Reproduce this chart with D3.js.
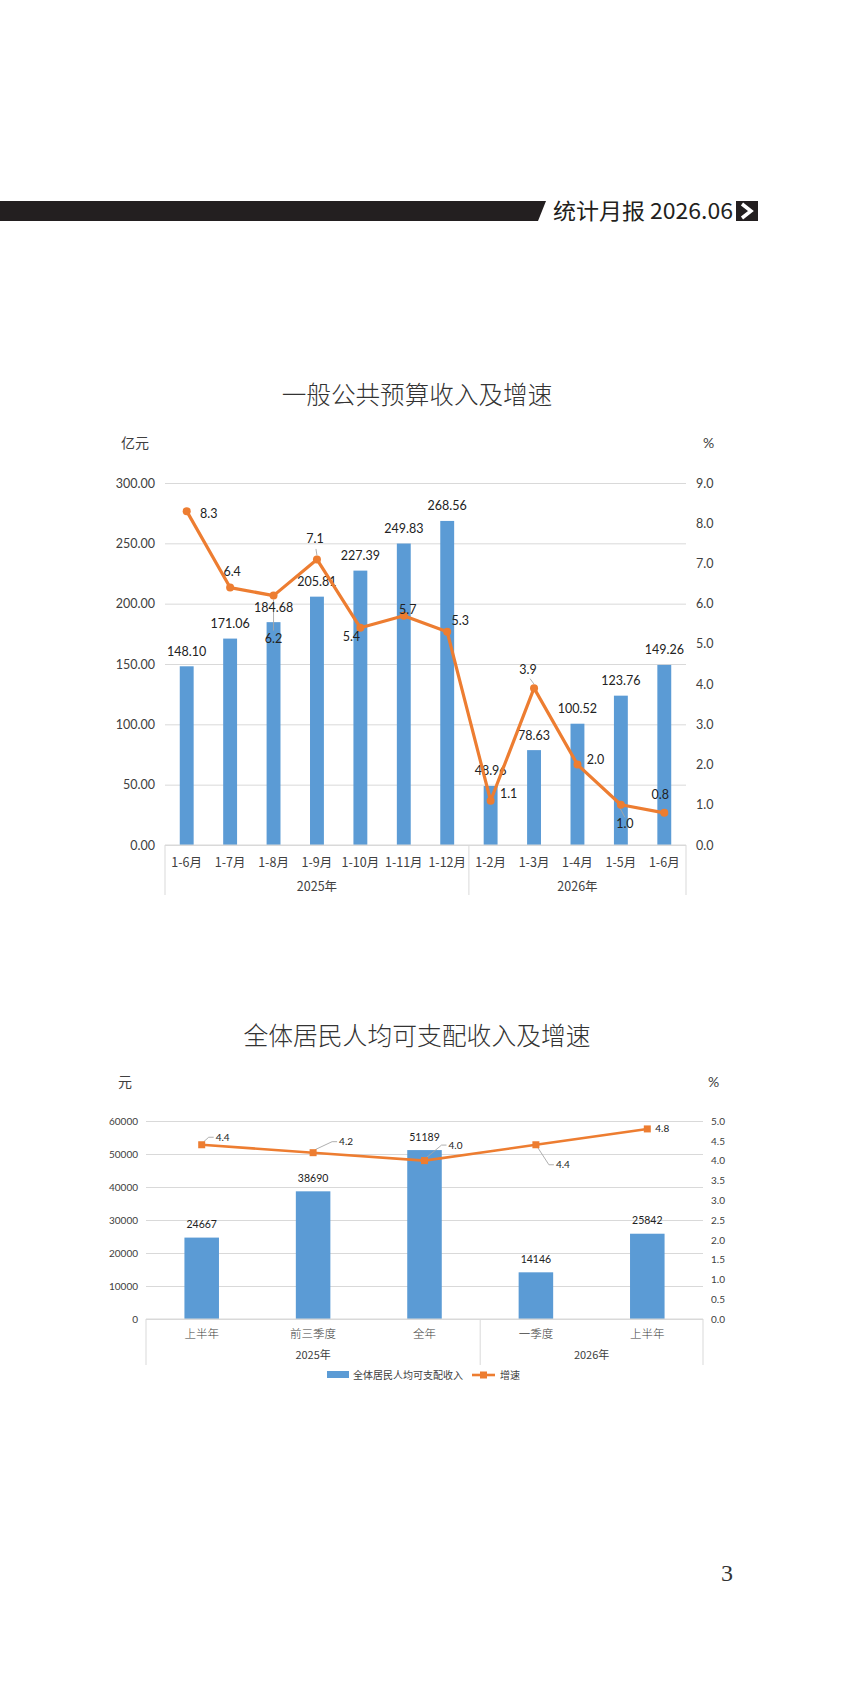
<!DOCTYPE html>
<html><head><meta charset="utf-8">
<script src="https://cdn.jsdelivr.net/npm/d3@7/dist/d3.min.js"></script>
<style>body{margin:0;background:#fff}svg{display:block}</style>
</head><body><svg id="c" width="858" height="1692"></svg>
<script>
// ---------- Chart 1 data ----------
const months = ["1-6月","1-7月","1-8月","1-9月","1-10月","1-11月","1-12月","1-2月","1-3月","1-4月","1-5月","1-6月"];
const revenue = [148.10,171.06,184.68,205.81,227.39,249.83,268.56,48.96,78.63,100.52,123.76,149.26];
const revenueGrowth = [8.3,6.4,6.2,7.1,5.4,5.7,5.3,1.1,3.9,2.0,1.0,0.8];
const years1 = ["2025年","2026年"];
const yearCounts1 = [7,5];
const leftTicks1 = [0,50,100,150,200,250,300];
const rightTicks1 = [0,1,2,3,4,5,6,7,8,9];
// ---------- Chart 2 data ----------
const periods = ["上半年","前三季度","全年","一季度","上半年"];
const income = [24667,38690,51189,14146,25842];
const incomeGrowth = [4.4,4.2,4.0,4.4,4.8];
const years2 = ["2025年","2026年"];
const yearCounts2 = [3,2];
const leftTicks2 = [0,10000,20000,30000,40000,50000,60000];
const rightTicks2 = [0,0.5,1,1.5,2,2.5,3,3.5,4,4.5,5];

// label placement offsets (styling only): [dx, baseline dy]
const lbl1 = [[22,6.5],[2,-11.5],[0,47],[-2,-16.5],[-9,13.5],[4,-2],[13,-6.5],[18,-2.5],[-6,-14.5],[18,-0.5],[4,23.5],[-4,-14]];
const lbl2 = [[21,-4],[33,-7.5],[31,-12],[27,23.5],[15,3.5]];

const BLUE = "#5B9BD5", ORANGE = "#ED7D31", GRID = "#D9D9D9", TXT = "#404040", LEAD = "#A6A6A6";
const CJK = "'Noto Sans CJK SC','Noto Sans',sans-serif";
const NUM = "Lato,'Open Sans',sans-serif";

const svg = d3.select("#c");
svg.append("rect").attr("width",858).attr("height",1692).attr("fill","#fff");

// ---------- Header ----------
const hdr = svg.append("g");
hdr.append("path").attr("d","M0,201 L546,201 L538,221 L0,221 Z").attr("fill","#231f20");
hdr.append("text").attr("x",553).attr("y",219).attr("font-family",CJK).attr("font-size",22)
  .attr("fill","#231f20").attr("textLength",180).attr("lengthAdjust","spacingAndGlyphs").text("统计月报 2026.06");
hdr.append("rect").attr("x",736).attr("y",201).attr("width",22).attr("height",20).attr("fill","#231f20");
hdr.append("path").attr("d","M742,204 L751,211 L742,218").attr("fill","none").attr("stroke","#fff").attr("stroke-width",3.5);

// ---------- Chart 1 ----------
(function(){
  const L=165,R=686,T=483,B=845;
  const x = d3.scaleBand().domain(d3.range(months.length)).range([L,R]);
  const y = d3.scaleLinear().domain([0,300]).range([B,T]);
  const y2 = d3.scaleLinear().domain([0,9]).range([B,T]);
  const cx = i=>x(i)+x.bandwidth()/2;
  const g = svg.append("g");
  g.append("text").attr("x",417).attr("y",404).attr("text-anchor","middle").attr("font-family",CJK)
    .attr("font-size",24.6).attr("font-weight",300).attr("fill","#333").text("一般公共预算收入及增速");
  g.append("text").attr("x",121).attr("y",448).attr("font-family",CJK).attr("font-size",14).attr("fill",TXT).text("亿元");
  g.append("text").attr("x",703).attr("y",448).attr("font-family",NUM).attr("font-size",14).attr("fill",TXT).text("%");

  const ga = g.append("g").attr("transform",`translate(${L},0)`)
    .call(d3.axisLeft(y).tickValues(leftTicks1).tickFormat(d3.format(".2f")).tickSize(-(R-L)).tickPadding(10));
  ga.select(".domain").remove();
  ga.selectAll(".tick line").attr("stroke",GRID);
  ga.selectAll(".tick text").attr("font-family",NUM).attr("font-size",12.5).attr("fill",TXT);
  const gr = g.append("g").attr("transform",`translate(${R},0)`)
    .call(d3.axisRight(y2).tickValues(rightTicks1).tickFormat(d3.format(".1f")).tickSize(0).tickPadding(10));
  gr.select(".domain").remove();
  gr.selectAll(".tick text").attr("font-family",NUM).attr("font-size",12.5).attr("fill",TXT);

  const bw = x.bandwidth()*0.32;
  g.selectAll(".bar").data(revenue).join("rect")
    .attr("x",(d,i)=>cx(i)-bw/2).attr("y",d=>y(d)).attr("width",bw).attr("height",d=>B-y(d)).attr("fill",BLUE);

  g.append("line").attr("x1",L).attr("x2",R).attr("y1",B).attr("y2",B).attr("stroke",GRID);
  g.selectAll(".cat").data(months).join("text")
    .attr("x",(d,i)=>cx(i)).attr("y",B+22).attr("text-anchor","middle")
    .attr("font-family",CJK).attr("font-size",12.5).attr("fill",TXT).text(d=>d);
  let acc=0; const seps=[0];
  yearCounts1.forEach(c=>{acc+=c;seps.push(acc);});
  const sx = d=>d===months.length?R:x(d);
  g.selectAll(".sep").data(seps).join("line")
    .attr("x1",sx).attr("x2",sx).attr("y1",B).attr("y2",B+50).attr("stroke",GRID);
  g.selectAll(".yr").data(years1).join("text")
    .attr("x",(d,i)=>(sx(seps[i])+sx(seps[i+1]))/2)
    .attr("y",B+46).attr("text-anchor","middle").attr("font-family",CJK).attr("font-size",12.5).attr("fill",TXT).text(d=>d);

  // leader lines (drawn beneath labels)
  const lead = g.append("g").attr("stroke",LEAD).attr("stroke-width",0.9).attr("fill","none");
  // 6.2 label far below its point
  lead.append("line").attr("x1",cx(2)).attr("x2",cx(2)).attr("y1",y2(revenueGrowth[2])+4).attr("y2",y2(revenueGrowth[2])+lbl1[2][1]-12);
  // 7.1
  lead.append("line").attr("x1",cx(3)).attr("x2",cx(3)-1).attr("y1",y2(revenueGrowth[3])-4).attr("y2",y2(revenueGrowth[3])+lbl1[3][1]+6);
  // 3.9
  lead.append("line").attr("x1",cx(8)).attr("x2",cx(8)+lbl1[8][0]+2).attr("y1",y2(revenueGrowth[8])-4).attr("y2",y2(revenueGrowth[8])+lbl1[8][1]+5);
  // 1.0
  lead.append("line").attr("x1",cx(10)-1).attr("x2",cx(10)+lbl1[10][0]).attr("y1",y2(revenueGrowth[10])+3).attr("y2",y2(revenueGrowth[10])+lbl1[10][1]-11);

  g.selectAll(".bl").data(revenue).join("text")
    .attr("x",(d,i)=>cx(i)).attr("y",d=>y(d)-10.5).attr("text-anchor","middle")
    .attr("font-family",NUM).attr("font-size",12.5).attr("fill","#222").text(d=>d.toFixed(2));

  g.append("path").datum(revenueGrowth).attr("fill","none").attr("stroke",ORANGE).attr("stroke-width",3.2)
    .attr("stroke-linejoin","round").attr("d",d3.line().x((d,i)=>cx(i)).y(d=>y2(d)));
  g.selectAll(".pt").data(revenueGrowth).join("circle").attr("cx",(d,i)=>cx(i)).attr("cy",d=>y2(d)).attr("r",4).attr("fill",ORANGE);
  g.selectAll(".ll").data(revenueGrowth).join("text")
    .attr("x",(d,i)=>cx(i)+lbl1[i][0]).attr("y",(d,i)=>y2(d)+lbl1[i][1]).attr("text-anchor","middle")
    .attr("font-family",NUM).attr("font-size",12.5).attr("fill","#222").text(d=>d.toFixed(1));
})();

// ---------- Chart 2 ----------
(function(){
  const L=146,R=703,T=1121,B=1319;
  const x = d3.scaleBand().domain(d3.range(periods.length)).range([L,R]);
  const y = d3.scaleLinear().domain([0,60000]).range([B,T]);
  const y2 = d3.scaleLinear().domain([0,5]).range([B,T]);
  const cx = i=>x(i)+x.bandwidth()/2;
  const g = svg.append("g");
  g.append("text").attr("x",417).attr("y",1045).attr("text-anchor","middle").attr("font-family",CJK)
    .attr("font-size",24.8).attr("font-weight",300).attr("fill","#333").text("全体居民人均可支配收入及增速");
  g.append("text").attr("x",118).attr("y",1087).attr("font-family",CJK).attr("font-size",14).attr("fill",TXT).text("元");
  g.append("text").attr("x",708).attr("y",1087).attr("font-family",NUM).attr("font-size",14).attr("fill",TXT).text("%");

  const ga = g.append("g").attr("transform",`translate(${L},0)`)
    .call(d3.axisLeft(y).tickValues(leftTicks2).tickFormat(d3.format("d")).tickSize(-(R-L)).tickPadding(8));
  ga.select(".domain").remove();
  ga.selectAll(".tick line").attr("stroke",GRID);
  ga.selectAll(".tick text").attr("font-family",NUM).attr("font-size",10).attr("fill",TXT);
  const gr = g.append("g").attr("transform",`translate(${R},0)`)
    .call(d3.axisRight(y2).tickValues(rightTicks2).tickFormat(d3.format(".1f")).tickSize(0).tickPadding(8));
  gr.select(".domain").remove();
  gr.selectAll(".tick text").attr("font-family",NUM).attr("font-size",10).attr("fill",TXT);

  const bw = x.bandwidth()*0.31;
  g.selectAll(".bar").data(income).join("rect")
    .attr("x",(d,i)=>cx(i)-bw/2).attr("y",d=>y(d)).attr("width",bw).attr("height",d=>B-y(d)).attr("fill",BLUE);

  g.append("line").attr("x1",L).attr("x2",R).attr("y1",B).attr("y2",B).attr("stroke",GRID);
  g.selectAll(".cat").data(periods).join("text")
    .attr("x",(d,i)=>cx(i)).attr("y",B+19).attr("text-anchor","middle")
    .attr("font-family",CJK).attr("font-size",11.5).attr("font-weight",300).attr("fill",TXT).text(d=>d);
  let acc=0; const seps=[0];
  yearCounts2.forEach(c=>{acc+=c;seps.push(acc);});
  const sx = d=>d===periods.length?R:x(d);
  g.selectAll(".sep").data(seps).join("line")
    .attr("x1",sx).attr("x2",sx).attr("y1",B).attr("y2",B+46).attr("stroke",GRID);
  g.selectAll(".yr").data(years2).join("text")
    .attr("x",(d,i)=>(sx(seps[i])+sx(seps[i+1]))/2)
    .attr("y",B+40).attr("text-anchor","middle").attr("font-family",CJK).attr("font-size",11).attr("fill",TXT).text(d=>d);

  g.selectAll(".bl").data(income).join("text")
    .attr("x",(d,i)=>cx(i)).attr("y",d=>y(d)-9.5).attr("text-anchor","middle")
    .attr("font-family",NUM).attr("font-size",10.5).attr("fill","#222").text(d=>d);

  // leader elbows
  const lead = g.append("g").attr("stroke",LEAD).attr("stroke-width",0.9).attr("fill","none");
  incomeGrowth.forEach((d,i)=>{
    if(i>3) return;
    const px=cx(i), py=y2(d);
    const lx = px+lbl2[i][0]-9, ly = py+lbl2[i][1]-3.5;
    const up = lbl2[i][1]<0;
    lead.append("path").attr("d",`M${px+2},${py+(up?-3:3)} L${lx-5},${ly} L${lx},${ly}`);
  });

  g.append("path").datum(incomeGrowth).attr("fill","none").attr("stroke",ORANGE).attr("stroke-width",2.6)
    .attr("d",d3.line().x((d,i)=>cx(i)).y(d=>y2(d)));
  g.selectAll(".pt").data(incomeGrowth).join("rect").attr("x",(d,i)=>cx(i)-3.5).attr("y",d=>y2(d)-3.5)
    .attr("width",7).attr("height",7).attr("fill",ORANGE);
  g.selectAll(".ll").data(incomeGrowth).join("text")
    .attr("x",(d,i)=>cx(i)+lbl2[i][0]).attr("y",(d,i)=>y2(d)+lbl2[i][1]).attr("text-anchor","middle")
    .attr("font-family",NUM).attr("font-size",10).attr("fill","#222").text(d=>d.toFixed(1));

  // legend
  const lg = g.append("g");
  lg.append("rect").attr("x",327).attr("y",1371).attr("width",22).attr("height",7).attr("fill",BLUE);
  lg.append("text").attr("x",353).attr("y",1379).attr("font-family",CJK).attr("font-size",10).attr("fill",TXT).text("全体居民人均可支配收入");
  lg.append("line").attr("x1",472).attr("x2",495).attr("y1",1375).attr("y2",1375).attr("stroke",ORANGE).attr("stroke-width",2.6);
  lg.append("rect").attr("x",480).attr("y",1371.5).attr("width",7).attr("height",7).attr("fill",ORANGE);
  lg.append("text").attr("x",500).attr("y",1379).attr("font-family",CJK).attr("font-size",10).attr("fill",TXT).text("增速");
})();

// page number
svg.append("text").attr("x",721).attr("y",1581).attr("font-family","'Liberation Serif','DejaVu Serif',serif")
  .attr("font-size",24).attr("fill","#333").text("3");
</script></body></html>
